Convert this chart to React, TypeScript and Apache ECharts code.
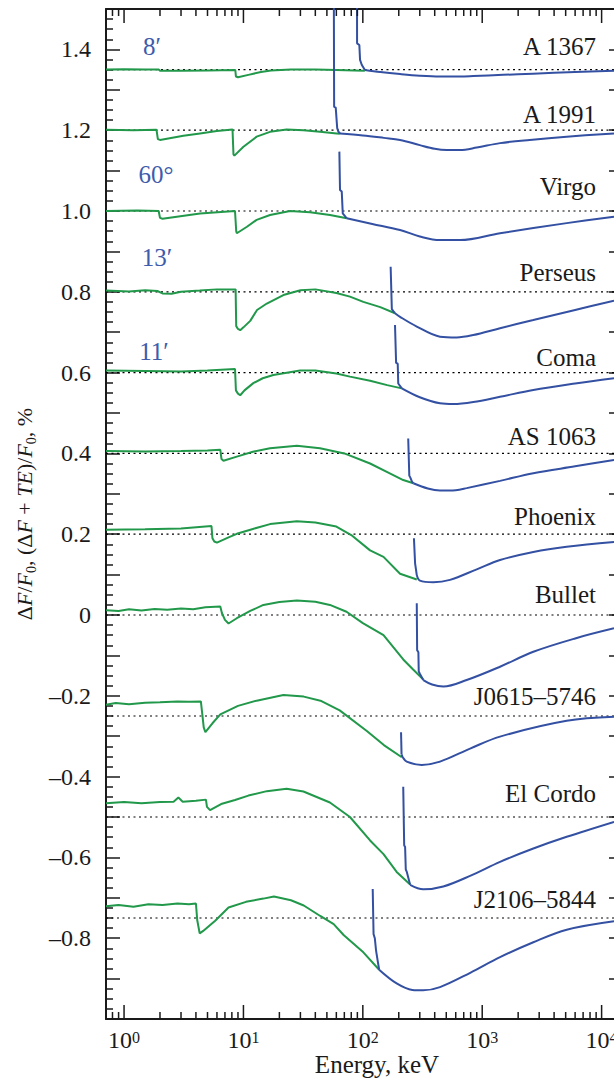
import React, { useEffect, useRef } from "react";
import * as echarts from "echarts";

// ---------- axis ranges & ticks ----------
const X_MIN = 0.706;
const X_MAX = 12700;
const Y_MIN = -1.0;
const Y_MAX = 1.5;
const xMajorTicks = [1, 10, 100, 1000, 10000];
const xMinorMultipliers = [2, 3, 4, 5, 6, 7, 8, 9];
const xDecades = [0.1, 1, 10, 100, 1000, 10000];

// ---------- clusters ----------
const clusterNames = ["A 1367", "A 1991", "Virgo", "Perseus", "Coma", "AS 1063", "Phoenix", "Bullet", "J0615–5746", "El Cordo", "J2106–5844"];
const baselines = [1.35, 1.2, 1.0, 0.8, 0.6, 0.4, 0.2, 0, -0.25, -0.5, -0.75];

// [energy keV, value %]
const a1367Green = [[0.706, 1.35], [1.0, 1.351], [1.5, 1.35], [1.95, 1.35], [2.0, 1.347], [3.0, 1.347], [5.0, 1.348], [8.55, 1.349], [8.65, 1.333], [9.0, 1.331], [11, 1.337], [14, 1.344], [17, 1.348], [25, 1.35], [40, 1.35], [60, 1.349], [85, 1.348], [104, 1.347]];
const a1367Blue = [[88.9, 2.0], [89.5, 1.415], [93.5, 1.411], [94.8, 1.374], [97.9, 1.362], [104, 1.349], [140, 1.344], [205, 1.339], [300, 1.335], [443, 1.333], [650, 1.333], [840, 1.334], [1500, 1.337], [2660, 1.34], [6000, 1.344], [12700, 1.347]];

const a1991Green = [[0.706, 1.201], [1.2, 1.2], [1.87, 1.201], [1.92, 1.178], [2.0, 1.176], [3.14, 1.186], [4.33, 1.192], [5.98, 1.198], [8.1, 1.202], [8.25, 1.14], [8.4, 1.137], [10, 1.159], [12.9, 1.184], [16.7, 1.196], [23, 1.202], [31.8, 1.2], [43.8, 1.196], [60.4, 1.192], [64.4, 1.191]];
const a1991Blue = [[56.6, 2.0], [57.5, 1.258], [59.3, 1.256], [61, 1.205], [62.5, 1.196], [64.4, 1.192], [100, 1.187], [150, 1.181], [205, 1.176], [300, 1.163], [400, 1.154], [505, 1.151], [650, 1.151], [900, 1.157], [1410, 1.168], [2500, 1.176], [5100, 1.184], [12700, 1.192]];

const virgoGreen = [[0.706, 1.0], [1.3, 1.001], [1.95, 1.0], [2.0, 0.983], [2.1, 0.981], [4.33, 0.994], [8.5, 1.0], [8.7, 0.95], [8.8, 0.945], [10.7, 0.961], [12.9, 0.978], [16.7, 0.99], [24.6, 1.0], [36.1, 0.997], [53.1, 0.99], [73.3, 0.982]];
const virgoBlue = [[63.6, 1.147], [64.4, 1.052], [66.6, 1.048], [67.9, 0.994], [73.3, 0.982], [120, 0.968], [205, 0.953], [300, 0.937], [443, 0.928], [652, 0.928], [1410, 0.945], [5100, 0.97], [12700, 0.986]];

const perseusGreen = [[0.706, 0.803], [1.1, 0.801], [1.5, 0.804], [1.9, 0.802], [2.1, 0.796], [2.5, 0.795], [3.0, 0.8], [4.3, 0.803], [6.0, 0.806], [8.6, 0.806], [8.7, 0.715], [9.0, 0.708], [9.4, 0.705], [10, 0.712], [11.4, 0.728], [13, 0.755], [15.7, 0.771], [21.6, 0.792], [30, 0.804], [40, 0.806], [60, 0.797], [78, 0.788], [101, 0.775], [140, 0.762], [186, 0.747]];
const perseusBlue = [[171, 0.862], [175, 0.757], [180, 0.752], [186, 0.747], [205, 0.738], [283, 0.714], [443, 0.689], [611, 0.687], [842, 0.693], [1410, 0.71], [2680, 0.73], [6000, 0.755], [12700, 0.778]];

const comaGreen = [[0.706, 0.605], [1.5, 0.604], [3.0, 0.603], [5.0, 0.605], [8.5, 0.609], [8.65, 0.556], [9.0, 0.548], [9.4, 0.544], [10.2, 0.556], [12.1, 0.574], [14.5, 0.586], [17.8, 0.594], [29.8, 0.605], [40, 0.605], [60, 0.598], [78, 0.59], [115, 0.58], [160, 0.569], [212, 0.561]];
const comaBlue = [[186, 0.718], [190, 0.624], [196, 0.622], [198, 0.573], [212, 0.561], [300, 0.539], [443, 0.524], [573, 0.522], [842, 0.527], [1410, 0.54], [2680, 0.557], [6000, 0.573], [12700, 0.586]];

const as1063Green = [[0.706, 0.406], [1.5, 0.405], [3.0, 0.406], [5.0, 0.407], [6.4, 0.409], [6.55, 0.386], [6.8, 0.382], [8.8, 0.392], [12, 0.404], [16.7, 0.413], [28, 0.419], [43.8, 0.413], [70, 0.4], [115, 0.375], [165, 0.352], [218, 0.334], [265, 0.326]];
const as1063Blue = [[240, 0.437], [245, 0.345], [250, 0.34], [258, 0.33], [265, 0.326], [350, 0.313], [443, 0.308], [600, 0.309], [741, 0.314], [1410, 0.332], [2680, 0.351], [6000, 0.368], [12700, 0.384]];

const phoenixGreen = [[0.706, 0.211], [1.5, 0.212], [3.0, 0.214], [5.4, 0.22], [5.5, 0.19], [5.7, 0.182], [6.0, 0.179], [7.5, 0.192], [8.8, 0.201], [12, 0.213], [16.7, 0.225], [28, 0.232], [40, 0.229], [60, 0.219], [80, 0.198], [115, 0.16], [149, 0.144], [205, 0.102], [283, 0.088]];
const phoenixBlue = [[268, 0.19], [274, 0.128], [283, 0.099], [301, 0.085], [389, 0.081], [537, 0.087], [900, 0.113], [1410, 0.136], [2680, 0.156], [5100, 0.169], [12700, 0.181]];

const bulletGreen = [[0.706, 0.012], [0.9, 0.01], [1.1, 0.014], [1.4, 0.011], [1.8, 0.015], [2.3, 0.013], [3.0, 0.016], [3.8, 0.014], [4.8, 0.019], [6.4, 0.021], [6.6, 0.005], [7.0, -0.012], [7.5, -0.021], [8.8, -0.008], [11.4, 0.01], [14.7, 0.025], [20, 0.032], [28, 0.036], [40, 0.033], [53, 0.025], [73, 0.008], [100, -0.02], [149, -0.05], [218, -0.11], [260, -0.133], [321, -0.16]];
const bulletBlue = [[283, 0.029], [285, -0.087], [292, -0.092], [294, -0.14], [301, -0.146], [321, -0.161], [380, -0.172], [472, -0.177], [741, -0.161], [1410, -0.128], [2680, -0.091], [6000, -0.058], [12700, -0.033]];

const j0615Green = [[0.706, -0.222], [0.85, -0.218], [1.1, -0.221], [1.5, -0.217], [2.0, -0.216], [2.8, -0.214], [3.5, -0.215], [4.4, -0.214], [4.5, -0.24], [4.65, -0.278], [4.8, -0.29], [5.5, -0.268], [6.4, -0.246], [9.0, -0.225], [12.9, -0.212], [21.6, -0.198], [32, -0.202], [45, -0.213], [64, -0.236], [108, -0.287], [150, -0.322], [212, -0.352]];
const j0615Blue = [[209, -0.29], [211, -0.345], [216, -0.352], [233, -0.363], [311, -0.371], [443, -0.363], [800, -0.33], [1410, -0.301], [5100, -0.262], [12700, -0.252]];

const elCordoGreen = [[0.706, -0.466], [1.0, -0.463], [1.4, -0.466], [2.0, -0.463], [2.6, -0.462], [2.85, -0.452], [3.1, -0.462], [4.0, -0.46], [4.85, -0.457], [4.95, -0.475], [5.25, -0.483], [6.5, -0.468], [8.5, -0.458], [11, -0.447], [15.7, -0.436], [23, -0.43], [31.8, -0.437], [53, -0.464], [78, -0.5], [115, -0.558], [149, -0.592], [192, -0.636], [249, -0.667]];
const elCordoBlue = [[218, -0.425], [222, -0.57], [226, -0.574], [229, -0.63], [233, -0.635], [249, -0.668], [321, -0.679], [472, -0.672], [800, -0.645], [1410, -0.611], [2680, -0.578], [5100, -0.549], [12700, -0.512]];

const j2106Green = [[0.706, -0.721], [0.9, -0.718], [1.2, -0.722], [1.6, -0.716], [2.1, -0.718], [2.8, -0.714], [3.5, -0.716], [4.0, -0.714], [4.1, -0.755], [4.3, -0.788], [4.6, -0.782], [5.8, -0.757], [7.5, -0.724], [10.5, -0.71], [14.7, -0.702], [18, -0.697], [25, -0.706], [32, -0.719], [44, -0.745], [57, -0.765], [69, -0.792], [101, -0.835], [137, -0.878]];
const j2106Blue = [[121, -0.678], [123, -0.79], [126, -0.8], [129, -0.83], [133, -0.855], [137, -0.878], [192, -0.912], [260, -0.928], [320, -0.929], [443, -0.921], [800, -0.885], [1410, -0.847], [2680, -0.81], [5100, -0.779], [12700, -0.758]];

const greenCurves = [a1367Green, a1991Green, virgoGreen, perseusGreen, comaGreen, as1063Green, phoenixGreen, bulletGreen, j0615Green, elCordoGreen, j2106Green];
const blueCurves = [a1367Blue, a1991Blue, virgoBlue, perseusBlue, comaBlue, as1063Blue, phoenixBlue, bulletBlue, j0615Blue, elCordoBlue, j2106Blue];

const angleNotes = ["8′", "60°", "13′", "11′"];
const xAxisTitle = "Energy, keV";

// ---------- layout (pixels) ----------
const nameLabelRight = 596;
const nameLabelY = [46, 114, 186, 272, 357, 436, 516, 594, 696, 793, 899];
const noteX = [152, 156, 157, 154];
const noteY = [46, 174, 257, 351];
const xTitleX = 377;
const xTitleY = 1064;

const SERIF = "'Liberation Serif', 'Times New Roman', serif";
const GREEN = "#21984a";
const BLUE = "#3350a2";
const NOTE_BLUE = "#3d5cab";
const INK = "#1a1a1a";

function buildOption() {
  const series: any[] = [];

  baselines.forEach((b) => {
    series.push({
      type: "line",
      data: [[X_MIN, b], [X_MAX, b]],
      symbol: "none",
      silent: true,
      z: 1,
      lineStyle: { color: "#000", width: 1.2, type: [2, 3.5] },
    });
  });

  greenCurves.forEach((d) => {
    series.push({
      type: "line",
      data: d,
      symbol: "none",
      silent: true,
      z: 2,
      lineStyle: { color: GREEN, width: 2 },
    });
  });

  blueCurves.forEach((d, i) => {
    // split the blue curve where the green curve ends: steep stepped part + smooth tail
    const g = greenCurves[i];
    const joinX = g[g.length - 1][0];
    let k = 0;
    d.forEach((p, j) => {
      if (p[0] <= joinX) k = j;
    });
    series.push({
      type: "line",
      data: d.slice(0, k + 1),
      symbol: "none",
      silent: true,
      z: 3,
      clip: true,
      lineStyle: { color: BLUE, width: 2 },
    });
    series.push({
      type: "line",
      data: d.slice(k),
      symbol: "none",
      silent: true,
      z: 3,
      smooth: 0.35,
      lineStyle: { color: BLUE, width: 2 },
    });
  });

  const xTickData: number[][] = [];
  xDecades.forEach((dec) => {
    xMinorMultipliers.forEach((m) => {
      const v = m * dec;
      if (v >= X_MIN && v <= X_MAX) xTickData.push([v, 0]);
    });
  });
  xMajorTicks.forEach((v) => xTickData.push([v, 1]));

  series.push({
    type: "custom",
    silent: true,
    z: 5,
    data: xTickData,
    renderItem: (params: any, api: any) => {
      const x = api.value(0);
      const major = api.value(1);
      const b = api.coord([x, Y_MIN]);
      const t = api.coord([x, Y_MAX]);
      const len = major ? 14 : 7;
      return {
        type: "group",
        children: [
          { type: "line", shape: { x1: b[0], y1: b[1], x2: b[0], y2: b[1] - len }, style: { stroke: INK, lineWidth: 1.5 } },
          { type: "line", shape: { x1: t[0], y1: t[1], x2: t[0], y2: t[1] + len }, style: { stroke: INK, lineWidth: 1.5 } },
        ],
      };
    },
  });

  const graphics: any[] = [];
  clusterNames.forEach((n, i) => {
    graphics.push({
      type: "text",
      x: nameLabelRight,
      y: nameLabelY[i],
      silent: true,
      style: { text: n, fill: INK, fontFamily: SERIF, fontSize: 25, align: "right", verticalAlign: "middle" },
    });
  });
  angleNotes.forEach((n, i) => {
    graphics.push({
      type: "text",
      x: noteX[i],
      y: noteY[i],
      silent: true,
      style: { text: n, fill: NOTE_BLUE, fontFamily: SERIF, fontSize: 25, align: "center", verticalAlign: "middle" },
    });
  });
  graphics.push({
    type: "text",
    x: xTitleX,
    y: xTitleY,
    silent: true,
    style: { text: xAxisTitle, fill: INK, fontFamily: SERIF, fontSize: 25, align: "center", verticalAlign: "middle" },
  });

  return {
    animation: false,
    backgroundColor: "#fff",
    textStyle: { fontFamily: SERIF },
    grid: { left: 106, right: 0, top: 9, bottom: 60, containLabel: false, outerBoundsMode: "none" },
    xAxis: [
      {
        type: "log",
        logBase: 10,
        min: X_MIN,
        max: X_MAX,
        position: "bottom",
        axisLine: { show: true, onZero: false, lineStyle: { color: INK, width: 2 } },
        axisTick: { show: false },
        splitLine: { show: false },
        axisLabel: {
          showMinLabel: false,
          showMaxLabel: false,
          margin: 10,
          color: INK,
          fontFamily: SERIF,
          formatter: (v: number) => {
            const e = Math.round(Math.log10(v));
            return `{b|10}{s|${e}}`;
          },
          rich: {
            b: { fontFamily: SERIF, fontSize: 24, lineHeight: 22, color: INK },
            s: { fontFamily: SERIF, fontSize: 16, lineHeight: 14, verticalAlign: "top", color: INK },
          },
        },
      },
      {
        type: "log",
        logBase: 10,
        min: X_MIN,
        max: X_MAX,
        position: "top",
        axisLine: { show: true, onZero: false, lineStyle: { color: INK, width: 2 } },
        axisTick: { show: false },
        axisLabel: { show: false },
        splitLine: { show: false },
      },
    ],
    yAxis: [
      {
        type: "value",
        min: Y_MIN,
        max: Y_MAX,
        interval: 0.1,
        position: "left",
        axisLine: { show: true, onZero: false, lineStyle: { color: INK, width: 2 } },
        axisTick: { show: true, inside: true, length: 14, lineStyle: { color: INK, width: 1.5 } },
        minorTick: { show: true, splitNumber: 4, length: 7, lineStyle: { color: INK, width: 1.5 } },
        splitLine: { show: false },
        minorSplitLine: { show: false },
        axisLabel: {
          showMinLabel: false,
          showMaxLabel: false,
          margin: 15,
          color: INK,
          fontFamily: SERIF,
          fontSize: 24,
          formatter: (v: number) => {
            const k = Math.round(v * 10);
            if (k % 2 !== 0) return "";
            if (k === 0) return "0";
            return (k < 0 ? "–" : "") + Math.abs(k / 10).toFixed(1);
          },
        },
        name: "{a|Δ}{i|F}{a|/}{i|F}{s|0}{a|, (Δ}{i|F}{a| + }{i|TE}{a|)/}{i|F}{s|0}{a|, %}",
        nameLocation: "middle",
        nameRotate: 90,
        nameGap: 66,
        nameTextStyle: {
          color: INK,
          fontFamily: SERIF,
          rich: {
            a: { fontFamily: SERIF, fontSize: 22, lineHeight: 28, color: INK },
            i: { fontFamily: SERIF, fontSize: 22, lineHeight: 28, fontStyle: "italic", color: INK },
            s: { fontFamily: SERIF, fontSize: 14, lineHeight: 14, verticalAlign: "bottom", color: INK },
          },
        },
      },
      {
        type: "value",
        min: Y_MIN,
        max: Y_MAX,
        interval: 0.1,
        position: "right",
        axisLine: { show: false, onZero: false },
        axisTick: { show: true, inside: true, length: 5, lineStyle: { color: INK, width: 1.5 } },
        axisLabel: { show: false },
        splitLine: { show: false },
      },
    ],
    series,
    graphic: graphics,
  };
}

export default function App() {
  const ref = useRef<HTMLDivElement>(null);
  useEffect(() => {
    if (!ref.current) return;
    const chart = echarts.init(ref.current, null, { renderer: "svg" });
    chart.setOption(buildOption() as any);
    return () => chart.dispose();
  }, []);
  return (
    <div
      ref={ref}
      style={{ position: "absolute", left: 0, top: 0, width: 614, height: 1079, background: "#fff" }}
    />
  );
}
